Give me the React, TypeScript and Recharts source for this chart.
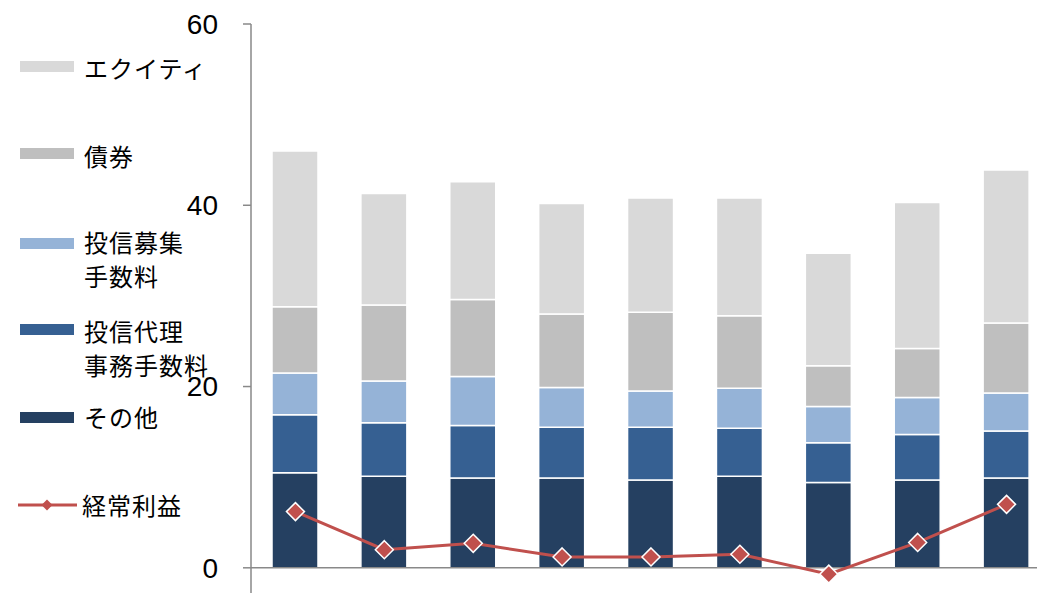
import React from 'react';
import { ComposedChart, Bar, Line, XAxis, YAxis, ReferenceLine } from 'recharts';

// 9 periods, no labels shown on the category axis
const periods = ['1', '2', '3', '4', '5', '6', '7', '8', '9'];
const other = [10.5, 10.1, 9.9, 9.9, 9.7, 10.1, 9.4, 9.7, 9.9];
const agencyFee = [6.4, 5.9, 5.8, 5.6, 5.8, 5.3, 4.4, 5.0, 5.2];
const salesFee = [4.6, 4.6, 5.4, 4.4, 4.0, 4.4, 4.0, 4.1, 4.2];
const bonds = [7.3, 8.4, 8.5, 8.1, 8.7, 8.0, 4.5, 5.4, 7.7];
const equity = [17.2, 12.3, 13.0, 12.2, 12.6, 13.0, 12.4, 16.1, 16.9];
const ordinaryProfit = [6.2, 2.0, 2.7, 1.2, 1.2, 1.5, -0.7, 2.8, 7.0];
const yTicks = [0, 20, 40, 60];

const COLORS = {
  equity: '#d9d9d9',
  bonds: '#bfbfbf',
  sales: '#95b3d7',
  agency: '#366092',
  other: '#254061',
  profit: '#c0504d',
};

const data = periods.map((p, i) => ({
  name: p,
  other: other[i],
  agency: agencyFee[i],
  sales: salesFee[i],
  bonds: bonds[i],
  equity: equity[i],
  profit: ordinaryProfit[i],
}));

const Diamond = (props: any) => {
  const { cx, cy } = props;
  if (cx == null || cy == null) return null;
  const r = 9;
  return (
    <polygon
      points={`${cx},${cy - r} ${cx + r},${cy} ${cx},${cy + r} ${cx - r},${cy}`}
      fill={COLORS.profit}
      stroke="#fff"
      strokeWidth={1.5}
    />
  );
};

const legendItems = [
  { label: 'エクイティ', color: COLORS.equity, y: 66.5, textY: 68 },
  { label: '債券', color: COLORS.bonds, y: 153, textY: 155.5 },
  { label: '投信募集\n手数料', color: COLORS.sales, y: 243, textY: 241.5 },
  { label: '投信代理\n事務手数料', color: COLORS.agency, y: 329.5, textY: 331 },
  { label: 'その他', color: COLORS.other, y: 417, textY: 417 },
];

const labelStyle: React.CSSProperties = {
  position: 'absolute',
  left: 84,
  fontFamily: '"Noto Sans CJK JP", "Noto Sans", sans-serif',
  fontSize: 24,
  lineHeight: '34px',
  color: '#000',
  whiteSpace: 'pre',
  letterSpacing: 1,
};

export default function App() {
  return (
    <div
      style={{
        position: 'fixed',
        left: 0,
        top: 0,
        width: 1037,
        height: 593,
        overflow: 'hidden',
        background: '#fff',
      }}
    >
      <ComposedChart
        width={1060}
        height={600}
        data={data}
        margin={{ top: 24, right: 9, bottom: 5, left: 0 }}
      >
        <XAxis dataKey="name" hide />
        <YAxis
          width={251}
          domain={[-3, 60]}
          ticks={yTicks}
          allowDataOverflow
          tickSize={8}
          tickMargin={25}
          axisLine={{ stroke: '#898989', strokeWidth: 1.5 }}
          tickLine={{ stroke: '#898989', strokeWidth: 1.5 }}
          tick={{ fill: '#000', fontSize: 28, fontFamily: '"Liberation Sans", Arial, sans-serif' }}
        />
        <ReferenceLine y={0} stroke="#898989" strokeWidth={1.5} />
        <Bar dataKey="other" stackId="a" fill={COLORS.other} stroke="#fff" strokeWidth={1.5} barSize={46} isAnimationActive={false} />
        <Bar dataKey="agency" stackId="a" fill={COLORS.agency} stroke="#fff" strokeWidth={1.5} barSize={46} isAnimationActive={false} />
        <Bar dataKey="sales" stackId="a" fill={COLORS.sales} stroke="#fff" strokeWidth={1.5} barSize={46} isAnimationActive={false} />
        <Bar dataKey="bonds" stackId="a" fill={COLORS.bonds} stroke="#fff" strokeWidth={1.5} barSize={46} isAnimationActive={false} />
        <Bar dataKey="equity" stackId="a" fill={COLORS.equity} stroke="#fff" strokeWidth={1.5} barSize={46} isAnimationActive={false} />
        <Line
          dataKey="profit"
          stroke={COLORS.profit}
          strokeWidth={3}
          dot={<Diamond />}
          activeDot={false}
          isAnimationActive={false}
        />
      </ComposedChart>

      {legendItems.map((it) => (
        <React.Fragment key={it.label}>
          <div
            style={{
              position: 'absolute',
              left: 20,
              top: it.y - 5.5,
              width: 54,
              height: 11,
              background: it.color,
            }}
          />
          <div style={{ ...labelStyle, top: it.textY - 17 }}>{it.label}</div>
        </React.Fragment>
      ))}
      <svg style={{ position: 'absolute', left: 0, top: 495 }} width={84} height={20}>
        <line x1={18} y1={10} x2={77} y2={10} stroke={COLORS.profit} strokeWidth={3} />
        <polygon points="47,4.5 52.5,10 47,15.5 41.5,10" fill={COLORS.profit} />
      </svg>
      <div style={{ ...labelStyle, left: 82, top: 505 - 17 }}>経常利益</div>
    </div>
  );
}
